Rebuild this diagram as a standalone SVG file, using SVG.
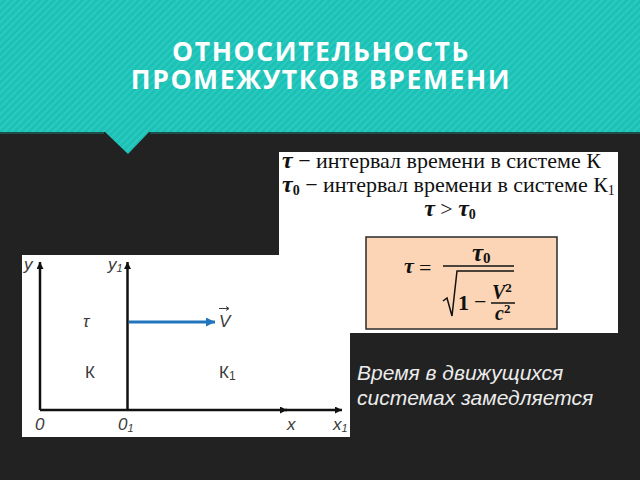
<svg xmlns="http://www.w3.org/2000/svg" width="640" height="480" viewBox="0 0 640 480">
<defs>
<pattern id="stripes" width="5" height="5" patternUnits="userSpaceOnUse" patternTransform="rotate(45)">
<rect width="5" height="5" fill="#1cc1b6"/>
<rect width="2" height="5" fill="#2bc9be"/>
</pattern>
<marker id="ah" viewBox="0 0 10 10" refX="10" refY="5" markerWidth="9" markerHeight="7" markerUnits="userSpaceOnUse" orient="auto">
<path d="M0,0 L10,5 L0,10 Z" fill="#111"/>
</marker>
<marker id="ahb" viewBox="0 0 10 10" refX="10" refY="5" markerWidth="10" markerHeight="9" markerUnits="userSpaceOnUse" orient="auto">
<path d="M0,0 L10,5 L0,10 Z" fill="#2175bd"/>
</marker>
</defs>
<style>
.title{font-family:"Open Sans","Liberation Sans",sans-serif;font-weight:bold;font-size:26.5px;letter-spacing:1.6px;fill:#ffffff;text-anchor:middle}
.ser{font-family:"Liberation Serif","DejaVu Serif",serif;font-size:22px;fill:#111}
.b{font-weight:bold}
.bi{font-weight:bold;font-style:italic}
.lab{font-family:"Liberation Sans","Open Sans",sans-serif;font-size:17px;fill:#3a3a3a}
.it{font-style:italic}
.cap{font-family:"Liberation Sans",Arial,sans-serif;font-style:italic;font-size:21px;fill:#ececec}
.ax{stroke:#111;stroke-width:2.5;fill:none}
.ln{stroke:#111;stroke-width:1.5;fill:none}
</style>
<rect x="0" y="0" width="640" height="480" fill="#222222"/>
<g id="header">
<rect x="0" y="0" width="640" height="132" fill="url(#stripes)"/>
<polygon points="104,131 128,154 150,131" fill="url(#stripes)"/>
<line x1="0" y1="133" x2="104" y2="133" stroke="#1d4f4b" stroke-width="2"/>
<line x1="150" y1="133" x2="640" y2="133" stroke="#1d4f4b" stroke-width="2"/>
<text class="title" x="321" y="61">ОТНОСИТЕЛЬНОСТЬ</text>
<text class="title" x="321" y="89">ПРОМЕЖУТКОВ ВРЕМЕНИ</text>
</g>
<g id="formula-box">
<rect x="279" y="152" width="339" height="181" fill="#ffffff"/>
<text class="ser" x="282" y="168"><tspan class="bi" font-size="24">τ</tspan> − интервал времени в системе К</text>
<text class="ser" x="282" y="192"><tspan class="bi" font-size="24">τ</tspan><tspan class="b" font-size="14" dy="3">0</tspan><tspan dy="-3"> − интервал времени в системе К</tspan><tspan font-size="14" dy="3">1</tspan></text>
<text class="ser" x="450" y="216" text-anchor="middle"><tspan class="bi" font-size="24">τ</tspan> &gt; <tspan class="bi" font-size="24">τ</tspan><tspan class="b" font-size="14" dy="3">0</tspan></text>
</g>
<g id="main-formula">
<rect x="366" y="237" width="191" height="92" fill="#fbd5b5" stroke="#2a2a2a" stroke-width="1.5"/>
<text class="ser bi" x="404" y="273" font-size="25">τ</text>
<text class="ser" x="419" y="275" font-size="32">=</text>
<line class="ln" x1="443" y1="266" x2="514" y2="266"/>
<text class="ser" x="472" y="261"><tspan class="bi" font-size="25">τ</tspan><tspan class="b" font-size="15" dy="2">0</tspan></text>
<path class="ln" d="M443,301 L447,298 L452,316 L457,271 L514,271"/>
<text class="ser b" x="458" y="310" font-size="21">1</text>
<text class="ser" x="474" y="309" font-size="22">−</text>
<text class="ser" x="492" y="299"><tspan class="bi" font-size="20">V</tspan><tspan class="b" font-size="13" dy="-7">2</tspan></text>
<line class="ln" x1="491" y1="303" x2="515" y2="303"/>
<text class="ser" x="495" y="320"><tspan class="bi" font-size="20">c</tspan><tspan class="b" font-size="13" dy="-7">2</tspan></text>
</g>
<g id="frames-diagram">
<rect x="22" y="255" width="328" height="182" fill="#ffffff"/>
<text class="lab it" x="24" y="270">y</text>
<text class="lab it" x="108" y="270">y<tspan font-size="11" dy="2">1</tspan></text>
<text class="lab it" x="83" y="327">τ</text>
<text class="lab" x="85" y="378">К</text>
<text class="lab it" x="219" y="327">V</text>
<path d="M219,308.5 L229,308.5 M226,306.5 L229,308.5 L226,310.5" stroke="#3a3a3a" stroke-width="1" fill="none"/>
<text class="lab" x="219" y="378">К<tspan font-size="12" dy="2">1</tspan></text>
<text class="lab it" x="35" y="430">0</text>
<text class="lab it" x="118" y="430">0<tspan font-size="11" dy="2">1</tspan></text>
<text class="lab it" x="287" y="430">x</text>
<text class="lab it" x="333" y="430">x<tspan font-size="11" dy="2">1</tspan></text>
</g>
<g id="connectors">
<line class="ax" x1="40" y1="410" x2="40" y2="262" marker-end="url(#ah)"/>
<line class="ax" x1="127.5" y1="410" x2="127.5" y2="262" marker-end="url(#ah)"/>
<line class="ax" x1="40" y1="410" x2="287" y2="410" marker-end="url(#ah)"/>
<line class="ax" x1="285" y1="410" x2="342" y2="410" marker-end="url(#ah)"/>
<line x1="129" y1="322" x2="215" y2="322" stroke="#2175bd" stroke-width="3" marker-end="url(#ahb)"/>
</g>
<g id="caption">
<text class="cap" x="357" y="380">Время в движущихся</text>
<text class="cap" x="357" y="405">системах замедляется</text>
</g>
</svg>
